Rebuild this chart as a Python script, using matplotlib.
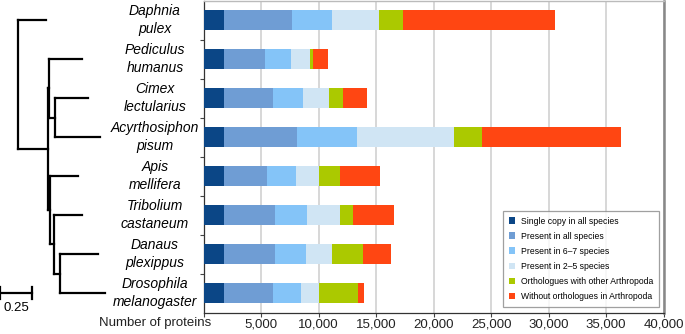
import numpy as np
import matplotlib
matplotlib.use('Agg')
from matplotlib import pyplot as plt
from matplotlib.transforms import blended_transform_factory

plt.rcParams['font.family'] = ['Liberation Sans', 'DejaVu Sans']

# species, top to bottom
species = ['Daphnia\npulex', 'Pediculus\nhumanus', 'Cimex\nlectularius',
           'Acyrthosiphon\npisum', 'Apis\nmellifera', 'Tribolium\ncastaneum',
           'Danaus\nplexippus', 'Drosophila\nmelanogaster']

categories = ['Single copy in all species', 'Present in all species',
              'Present in 6\u20137 species', 'Present in 2\u20135 species',
              'Orthologues with other Arthropoda', 'Without orthologues in Arthropoda']

single_copy = [1770, 1770, 1770, 1770, 1770, 1770, 1770, 1770]
present_all = [5930, 3560, 4280, 6310, 3760, 4400, 4400, 4280]
present_6_7 = [3430, 2260, 2550, 5220, 2500, 2790, 2730, 2380]
present_2_5 = [4140, 1650, 2320, 8470, 2000, 2890, 2230, 1600]
ortho_arthro = [2030, 290, 1160, 2400, 1850, 1130, 2750, 3390]
no_ortho = [13300, 1250, 2090, 12100, 3450, 3570, 2410, 550]

colors = ['#0b4686', '#6f9dd4', '#84c4f8', '#d0e5f4', '#abc900', '#ff4612']

xticks = [0, 5000, 10000, 15000, 20000, 25000, 30000, 35000, 40000]
xticklabels = ['', '5,000', '10,000', '15,000', '20,000', '25,000', '30,000', '35,000', '40,000']

# phylogeny: (leaf index or None, branch length, children)
tree = (None, 0.0, [
    (0, 0.218, None),
    (None, 0.234, [
        (None, 0.010, [
            (1, 0.257, None),
            (None, 0.047, [(2, 0.257, None), (3, 0.354, None)]),
        ]),
        (None, 0.018, [
            (4, 0.220, None),
            (None, 0.034, [
                (5, 0.216, None),
                (None, 0.045, [(6, 0.297, None), (7, 0.354, None)]),
            ]),
        ]),
    ]),
])
scale_len = 0.25

W, H = 685, 334
fig = plt.figure(figsize=(W / 100, H / 100), dpi=100)

ax_l, ax_r = 203.7, 663.5
ax_t, ax_b = 0.5, 312.5
ax = fig.add_axes([ax_l / W, (H - ax_b) / H, (ax_r - ax_l) / W, (ax_b - ax_t) / H])

series = [single_copy, present_all, present_6_7, present_2_5, ortho_arthro, no_ortho]
y = np.arange(len(species))
left = np.zeros(len(species))
for vals, c, lab in zip(series, colors, categories):
    ax.barh(y, vals, left=left, height=0.5, color=c, label=lab, zorder=3)
    left += np.array(vals)

ax.set_ylim(len(species) - 0.5, -0.5)
ax.set_xlim(0, 40000)
ax.set_xticks(xticks)
ax.set_xticklabels(xticklabels, fontsize=9.5, color='#222222')
ax.set_yticks([])
ax.set_yticks(np.arange(0.5, len(species) - 1, 1), minor=True)
ax.tick_params(axis='y', which='minor', length=3, width=0.8, color='#444444', direction='out')
ax.tick_params(axis='x', length=3, width=0.8, color='#444444', pad=1)
ax.grid(axis='x', color='#d4d4d4', lw=1.3, zorder=0)

for s in ['left', 'bottom']:
    ax.spines[s].set_color('#333333')
    ax.spines[s].set_linewidth(0.9)
ax.spines['top'].set_color('#bbbbbb')
ax.spines['top'].set_linewidth(1.0)
ax.spines['right'].set_color('#888888')
ax.spines['right'].set_linewidth(1.8)

trans = blended_transform_factory(ax.transAxes, ax.transData)
lab_x = (155 - ax_l) / (ax_r - ax_l)
for i, name in enumerate(species):
    ax.text(lab_x, i, name, transform=trans, ha='center', va='center',
            fontsize=10, style='italic', linespacing=1.4)

ax.text(lab_x, -0.033, 'Number of proteins', transform=ax.transAxes,
        ha='center', va='center', fontsize=9.5, color='#222222')

leg = ax.legend(loc='lower right', bbox_to_anchor=(0.99, 0.018), borderaxespad=0,
                fontsize=6.2, frameon=True, fancybox=False, edgecolor='#888888',
                handlelength=0.8, handleheight=0.8, handletextpad=0.6,
                labelspacing=0.7, borderpad=0.7)
leg.get_frame().set_linewidth(0.9)

# tree panel
unit = 127.0  # px per branch length unit
root_px = 18.0
tw = 125.0
tax = fig.add_axes([0, (H - ax_b) / H, tw / W, (ax_b - ax_t) / H])
tax.set_ylim(len(species) - 0.5, -0.5)
tax.set_xlim(-root_px / unit, (tw - root_px) / unit)
tax.axis('off')

lw = 1.6


def draw(node, x0):
    idx, bl, children = node
    x1 = x0 + bl
    if children is None:
        yy = idx
    else:
        ys = [draw(ch, x1) for ch in children]
        yy = (ys[0] + ys[-1]) / 2.0
        tax.plot([x1, x1], [ys[0], ys[-1]], color='black', lw=lw, solid_capstyle='projecting')
    if bl > 0:
        tax.plot([x0, x1], [yy, yy], color='black', lw=lw, solid_capstyle='projecting')
    return yy


draw(tree, 0.0)

sx0 = -root_px / unit
sy = len(species) - 1
tax.plot([sx0, sx0 + scale_len], [sy, sy], color='black', lw=lw, clip_on=False)
for sx in [sx0, sx0 + scale_len]:
    tax.plot([sx, sx], [sy - 0.16, sy + 0.16], color='black', lw=lw, clip_on=False)
tax.text(sx0 + scale_len / 2 + 0.005, sy + 0.22, '0.25', ha='center', va='top', fontsize=9.5)

fig.savefig('out.png', dpi=100)
